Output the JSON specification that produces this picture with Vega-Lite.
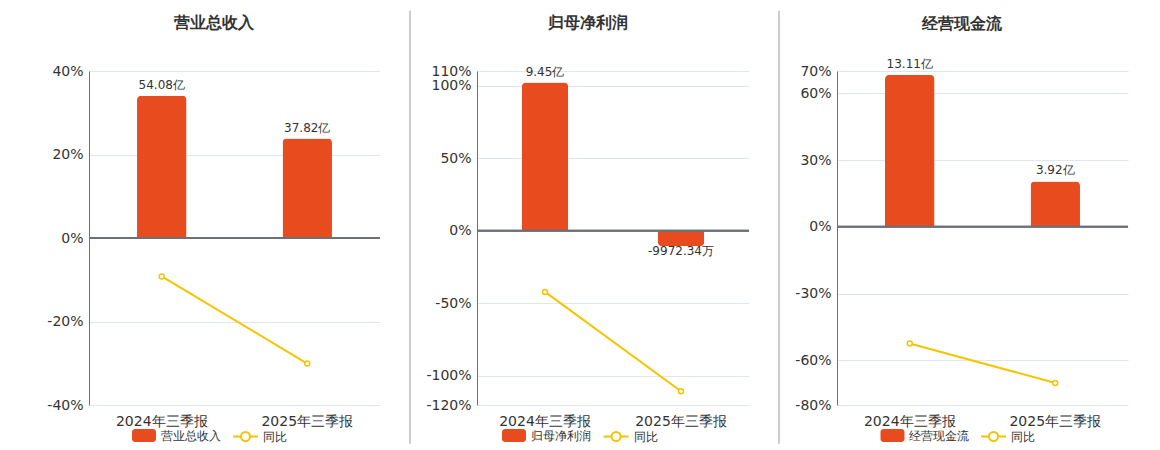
{
  "$schema": "https://vega.github.io/schema/vega-lite/v6.json",
  "background": "white",
  "padding": {"left": 46, "top": 10, "right": 0, "bottom": 0},
  "config": {
    "font": "DejaVu Sans",
    "view": {"stroke": null},
    "axis": {"labelFont": "DejaVu Sans", "labelColor": "#333333", "labelFontSize": 14},
    "legend": {"labelFont": "DejaVu Sans", "labelFontSize": 12, "labelColor": "#333333", "labelOffset": 4, "symbolSize": 625, "title": null}
  },
  "spacing": 14,
  "resolve": {"scale": {"color": "independent", "stroke": "independent"}, "legend": {"color": "independent", "stroke": "independent"}},
  "hconcat": [
    {
      "width": 291, "height": 334,
      "title": {"text": "营业总收入", "fontSize": 16, "fontWeight": "bold", "color": "#333333", "anchor": "middle", "frame": "bounds", "offset": 33},
      "data": {"values": [
        {"period": "2024年三季报", "value": 54.08, "label": "54.08亿", "yoy": -9.2, "s1": "营业总收入", "s2": "同比"},
        {"period": "2025年三季报", "value": 37.82, "label": "37.82亿", "yoy": -30.07, "s1": "营业总收入", "s2": "同比"}
      ]},
      "layer": [
        {
          "mark": {"type": "bar", "cornerRadiusTopLeft": 4, "cornerRadiusTopRight": 4},
          "encoding": {
            "x": {"field": "period", "type": "nominal", "sort": null, "scale": {"paddingInner": 0.66, "paddingOuter": 0.33}, "axis": {"title": null, "labelAngle": 0, "domain": false, "ticks": false, "labelPadding": 9, "labelFontSize": 14, "labelColor": "#333333", "grid": false}},
            "y": {"field": "value", "type": "quantitative", "scale": {"domain": [-63.53, 63.53], "nice": false}, "axis": null},
            "color": {"field": "s1", "type": "nominal", "scale": {"domain": ["营业总收入"], "range": ["#E84C1E"]},
              "legend": {"title": null, "orient": "none", "legendX": 42.5, "legendY": 352, "symbolType": "M-0.72,-0.52H0.72A0.24,0.24 0 0 1 0.96,-0.28V0.28A0.24,0.24 0 0 1 0.72,0.52H-0.72A0.24,0.24 0 0 1 -0.96,0.28V-0.28A0.24,0.24 0 0 1 -0.72,-0.52Z", "symbolStrokeWidth": 0, "symbolOpacity": 1}}
          }
        },
        {
          "mark": {"type": "text", "baseline": "bottom", "dy": -4, "fontSize": 12, "color": "#333333"},
          "encoding": {
            "x": {"field": "period", "type": "nominal", "sort": null},
            "y": {"field": "value", "type": "quantitative", "scale": {"domain": [-63.53, 63.53], "nice": false}, "axis": null},
            "text": {"field": "label"}
          }
        },
        {
          "mark": {"type": "rule", "color": "#6E7079", "strokeWidth": 2},
          "encoding": {"y": {"datum": 0, "type": "quantitative", "scale": {"domain": [-40, 40], "nice": false}, "axis": null}}
        },
        {
          "mark": {"type": "line", "strokeWidth": 2, "point": {"filled": false, "fill": "white", "size": 25, "strokeWidth": 1.5}},
          "encoding": {
            "x": {"field": "period", "type": "nominal", "sort": null},
            "y": {"field": "yoy", "type": "quantitative", "scale": {"domain": [-40, 40], "nice": false},
              "axis": {"orient": "left", "values": [-40, -20, 0, 20, 40], "labelExpr": "datum.value + '%'", "title": null, "grid": true, "gridColor": "#E0E6F1", "domain": true, "domainColor": "#6E7079", "ticks": false, "labelPadding": 6, "labelFontSize": 14, "labelColor": "#333333"}},
            "stroke": {"field": "s2", "type": "nominal", "scale": {"domain": ["同比"], "range": ["#F5C400"]},
              "legend": {"title": null, "orient": "none", "legendX": 143, "legendY": 352, "symbolType": "M-1,0H-0.36M0.36,0H1M0.36,0A0.36,0.36 0 1 1 -0.36,0A0.36,0.36 0 1 1 0.36,0A0.36,0.36 0 1 0 -0.36,0A0.36,0.36 0 1 0 0.36,0", "symbolStrokeWidth": 2, "symbolOpacity": 1}}
          }
        }
      ],
      "resolve": {"scale": {"y": "independent"}}
    },
    {
      "width": 15, "height": 334,
      "data": {"values": [{"k": 1}]},
      "mark": {"type": "rule", "color": "#AAAAAA", "strokeWidth": 1.2},
      "encoding": {
        "x": {"datum": 1, "type": "quantitative", "scale": {"domain": [0, 1], "nice": false, "zero": false}, "axis": null},
        "y": {"datum": 1.1805, "type": "quantitative", "scale": {"domain": [0, 1], "nice": false, "zero": false}, "axis": null},
        "y2": {"datum": -0.1159}
      }
    },
    {
      "width": 272, "height": 334,
      "title": {"text": "归母净利润", "fontSize": 16, "fontWeight": "bold", "color": "#333333", "anchor": "middle", "frame": "bounds", "offset": 33},
      "data": {"values": [
        {"period": "2024年三季报", "value": 9.45, "label": "9.45亿", "yoy": -42.1, "s1": "归母净利润", "s2": "同比"},
        {"period": "2025年三季报", "value": -0.997234, "label": "-9972.34万", "yoy": -110.55, "s1": "归母净利润", "s2": "同比"}
      ]},
      "layer": [
        {
          "transform": [{"filter": "datum.value >= 0"}],
          "mark": {"type": "bar", "cornerRadiusTopLeft": 4, "cornerRadiusTopRight": 4},
          "encoding": {
            "x": {"field": "period", "type": "nominal", "sort": null, "scale": {"paddingInner": 0.66, "paddingOuter": 0.33}, "axis": {"title": null, "labelAngle": 0, "domain": false, "ticks": false, "labelPadding": 9, "labelFontSize": 14, "labelColor": "#333333", "grid": false}},
            "y": {"field": "value", "type": "quantitative", "scale": {"domain": [-11.118, 10.191], "nice": false}, "axis": null},
            "color": {"field": "s1", "type": "nominal", "scale": {"domain": ["归母净利润"], "range": ["#E84C1E"]},
              "legend": {"title": null, "orient": "none", "legendX": 24.5, "legendY": 352, "symbolType": "M-0.72,-0.52H0.72A0.24,0.24 0 0 1 0.96,-0.28V0.28A0.24,0.24 0 0 1 0.72,0.52H-0.72A0.24,0.24 0 0 1 -0.96,0.28V-0.28A0.24,0.24 0 0 1 -0.72,-0.52Z", "symbolStrokeWidth": 0, "symbolOpacity": 1}}
          }
        },
        {
          "transform": [{"filter": "datum.value < 0"}],
          "mark": {"type": "bar", "cornerRadiusBottomLeft": 4, "cornerRadiusBottomRight": 4},
          "encoding": {
            "x": {"field": "period", "type": "nominal", "sort": null},
            "y": {"field": "value", "type": "quantitative", "scale": {"domain": [-11.118, 10.191], "nice": false}, "axis": null},
            "color": {"field": "s1", "type": "nominal"}
          }
        },
        {
          "transform": [{"filter": "datum.value >= 0"}],
          "mark": {"type": "text", "baseline": "bottom", "dy": -4, "fontSize": 12, "color": "#333333"},
          "encoding": {
            "x": {"field": "period", "type": "nominal", "sort": null},
            "y": {"field": "value", "type": "quantitative", "scale": {"domain": [-11.118, 10.191], "nice": false}, "axis": null},
            "text": {"field": "label"}
          }
        },
        {
          "transform": [{"filter": "datum.value < 0"}],
          "mark": {"type": "text", "baseline": "top", "dy": 0, "fontSize": 12, "color": "#333333"},
          "encoding": {
            "x": {"field": "period", "type": "nominal", "sort": null},
            "y": {"field": "value", "type": "quantitative", "scale": {"domain": [-11.118, 10.191], "nice": false}, "axis": null},
            "text": {"field": "label"}
          }
        },
        {
          "mark": {"type": "rule", "color": "#6E7079", "strokeWidth": 2},
          "encoding": {"y": {"datum": 0, "type": "quantitative", "scale": {"domain": [-120, 110], "nice": false}, "axis": null}}
        },
        {
          "mark": {"type": "line", "strokeWidth": 2, "point": {"filled": false, "fill": "white", "size": 25, "strokeWidth": 1.5}},
          "encoding": {
            "x": {"field": "period", "type": "nominal", "sort": null},
            "y": {"field": "yoy", "type": "quantitative", "scale": {"domain": [-120, 110], "nice": false},
              "axis": {"orient": "left", "values": [-120, -100, -50, 0, 50, 100, 110], "labelExpr": "datum.value + '%'", "title": null, "grid": true, "gridColor": "#E0E6F1", "domain": true, "domainColor": "#6E7079", "ticks": false, "labelPadding": 6, "labelFontSize": 14, "labelColor": "#333333"}},
            "stroke": {"field": "s2", "type": "nominal", "scale": {"domain": ["同比"], "range": ["#F5C400"]},
              "legend": {"title": null, "orient": "none", "legendX": 125.6, "legendY": 352, "symbolType": "M-1,0H-0.36M0.36,0H1M0.36,0A0.36,0.36 0 1 1 -0.36,0A0.36,0.36 0 1 1 0.36,0A0.36,0.36 0 1 0 -0.36,0A0.36,0.36 0 1 0 0.36,0", "symbolStrokeWidth": 2, "symbolOpacity": 1}}
          }
        }
      ],
      "resolve": {"scale": {"y": "independent"}}
    },
    {
      "width": 15, "height": 334,
      "data": {"values": [{"k": 1}]},
      "mark": {"type": "rule", "color": "#AAAAAA", "strokeWidth": 1.2},
      "encoding": {
        "x": {"datum": 1, "type": "quantitative", "scale": {"domain": [0, 1], "nice": false, "zero": false}, "axis": null},
        "y": {"datum": 1.1805, "type": "quantitative", "scale": {"domain": [0, 1], "nice": false, "zero": false}, "axis": null},
        "y2": {"datum": -0.1159}
      }
    },
    {
      "width": 291, "height": 334,
      "title": {"text": "经营现金流", "fontSize": 16, "fontWeight": "bold", "color": "#333333", "anchor": "middle", "frame": "bounds", "offset": 26},
      "data": {"values": [
        {"period": "2024年三季报", "value": 13.11, "label": "13.11亿", "yoy": -52.4, "s1": "经营现金流", "s2": "同比"},
        {"period": "2025年三季报", "value": 3.92, "label": "3.92亿", "yoy": -70.1, "s1": "经营现金流", "s2": "同比"}
      ]},
      "layer": [
        {
          "mark": {"type": "bar", "cornerRadiusTopLeft": 4, "cornerRadiusTopRight": 4},
          "encoding": {
            "x": {"field": "period", "type": "nominal", "sort": null, "scale": {"paddingInner": 0.66, "paddingOuter": 0.33}, "axis": {"title": null, "labelAngle": 0, "domain": false, "ticks": false, "labelPadding": 9, "labelFontSize": 14, "labelColor": "#333333", "grid": false}},
            "y": {"field": "value", "type": "quantitative", "scale": {"domain": [-15.378, 13.456], "nice": false}, "axis": null},
            "color": {"field": "s1", "type": "nominal", "scale": {"domain": ["经营现金流"], "range": ["#E84C1E"]},
              "legend": {"title": null, "orient": "none", "legendX": 43, "legendY": 352, "symbolType": "M-0.72,-0.52H0.72A0.24,0.24 0 0 1 0.96,-0.28V0.28A0.24,0.24 0 0 1 0.72,0.52H-0.72A0.24,0.24 0 0 1 -0.96,0.28V-0.28A0.24,0.24 0 0 1 -0.72,-0.52Z", "symbolStrokeWidth": 0, "symbolOpacity": 1}}
          }
        },
        {
          "mark": {"type": "text", "baseline": "bottom", "dy": -4, "fontSize": 12, "color": "#333333"},
          "encoding": {
            "x": {"field": "period", "type": "nominal", "sort": null},
            "y": {"field": "value", "type": "quantitative", "scale": {"domain": [-15.378, 13.456], "nice": false}, "axis": null},
            "text": {"field": "label"}
          }
        },
        {
          "mark": {"type": "rule", "color": "#6E7079", "strokeWidth": 2},
          "encoding": {"y": {"datum": 0, "type": "quantitative", "scale": {"domain": [-80, 70], "nice": false}, "axis": null}}
        },
        {
          "mark": {"type": "line", "strokeWidth": 2, "point": {"filled": false, "fill": "white", "size": 25, "strokeWidth": 1.5}},
          "encoding": {
            "x": {"field": "period", "type": "nominal", "sort": null},
            "y": {"field": "yoy", "type": "quantitative", "scale": {"domain": [-80, 70], "nice": false},
              "axis": {"orient": "left", "values": [-80, -60, -30, 0, 30, 60, 70], "labelExpr": "datum.value + '%'", "title": null, "grid": true, "gridColor": "#E0E6F1", "domain": true, "domainColor": "#6E7079", "ticks": false, "labelPadding": 6, "labelFontSize": 14, "labelColor": "#333333"}},
            "stroke": {"field": "s2", "type": "nominal", "scale": {"domain": ["同比"], "range": ["#F5C400"]},
              "legend": {"title": null, "orient": "none", "legendX": 143, "legendY": 352, "symbolType": "M-1,0H-0.36M0.36,0H1M0.36,0A0.36,0.36 0 1 1 -0.36,0A0.36,0.36 0 1 1 0.36,0A0.36,0.36 0 1 0 -0.36,0A0.36,0.36 0 1 0 0.36,0", "symbolStrokeWidth": 2, "symbolOpacity": 1}}
          }
        }
      ],
      "resolve": {"scale": {"y": "independent"}}
    }
  ]
}
